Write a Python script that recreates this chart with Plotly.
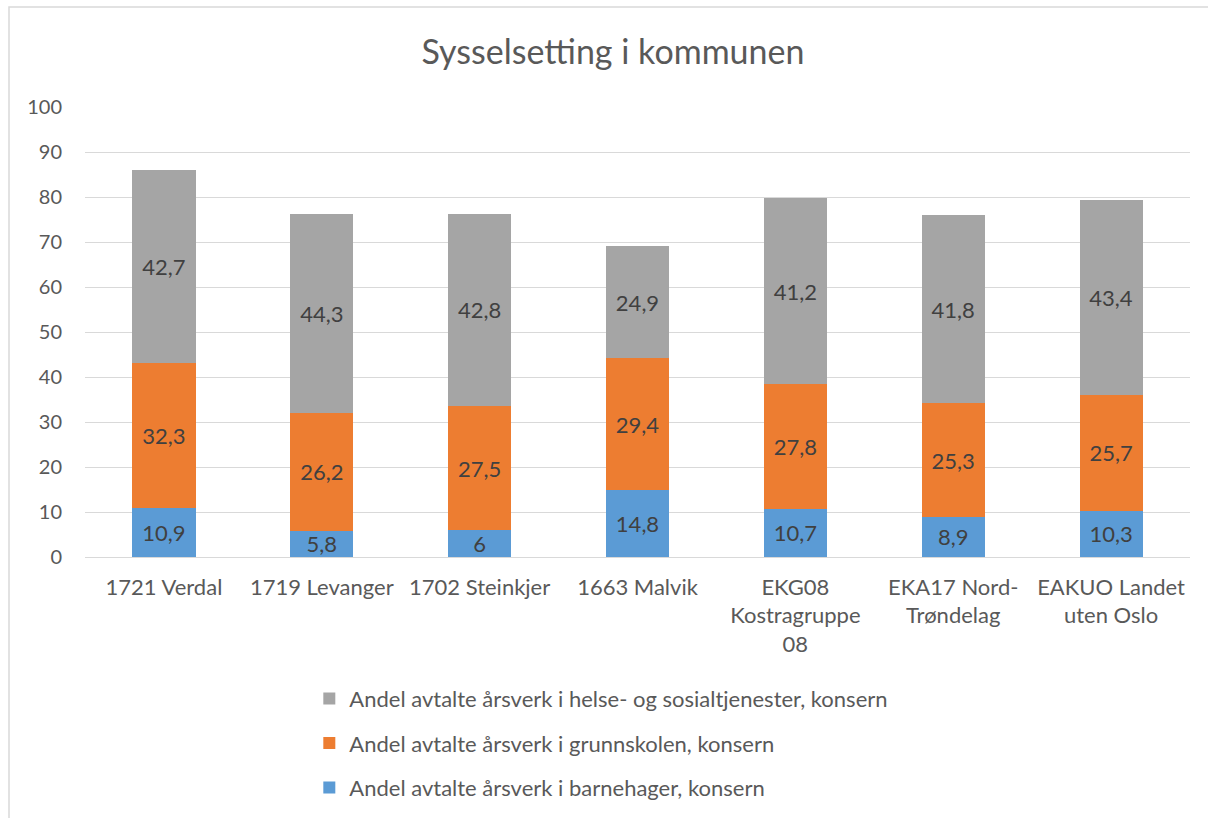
import plotly.graph_objects as go

categories = ["1721 Verdal", "1719 Levanger", "1702 Steinkjer", "1663 Malvik",
              "EKG08<br>Kostragruppe<br>08", "EKA17 Nord-<br>Trøndelag", "EAKUO Landet<br>uten Oslo"]
barnehager = [10.9, 5.8, 6, 14.8, 10.7, 8.9, 10.3]
grunnskolen = [32.3, 26.2, 27.5, 29.4, 27.8, 25.3, 25.7]
helse = [42.7, 44.3, 42.8, 24.9, 41.2, 41.8, 43.4]

series = [
    ("Andel avtalte årsverk i barnehager, konsern", barnehager, "#5B9BD5", 3),
    ("Andel avtalte årsverk i grunnskolen, konsern", grunnskolen, "#ED7D31", 2),
    ("Andel avtalte årsverk i helse- og sosialtjenester, konsern", helse, "#A5A5A5", 1),
]

FONT = "Lato, 'Open Sans', sans-serif"
fig = go.Figure()
for i, (name, vals, color, rank) in enumerate(series):
    fig.add_trace(go.Bar(
        x=categories, y=vals, name=name, marker=dict(color=color, line=dict(width=0)),
        text=[str(v).replace(".", ",") for v in vals], textposition="inside",
        insidetextanchor="middle", textangle=0, constraintext="none",
        textfont=dict(color="#404040", size=22, family=FONT),
        legendgroup=f"g{i}", legendrank=rank, hoverinfo="skip",
    ))

fig.update_layout(
    barmode="stack", bargap=0.6,
    width=1208, height=818,
    margin=dict(l=85, r=18, t=107, b=261, autoexpand=False),
    paper_bgcolor="white", plot_bgcolor="white",
    font=dict(family=FONT, color="#595959", size=22),
    title=dict(text="Sysselsetting i kommunen", x=613 / 1208, xanchor="center",
               y=1 - 52 / 818, yanchor="middle",
               font=dict(size=34, color="#595959", family=FONT)),
    legend=dict(orientation="v", x=0.203, xanchor="left", y=-0.268, yanchor="top",
                traceorder="grouped", tracegroupgap=13,
                font=dict(size=22, color="#595959", family=FONT),
                itemwidth=30, bgcolor="rgba(0,0,0,0)"),
    showlegend=True,
    shapes=[dict(type="rect", xref="paper", yref="paper",
                 x0=-76 / 1105, x1=1.2, y0=-0.7, y1=1 + 100 / 450,
                 line=dict(color="#D9D9D9", width=1.5), layer="below")],
)
fig.update_yaxes(range=[0, 100], dtick=10, showgrid=True, gridcolor="#D9D9D9", gridwidth=1.3,
                 zeroline=False, showline=False, ticks="", ticklabelstandoff=22,
                 tickfont=dict(size=20, color="#595959"))
fig.update_xaxes(showgrid=False, showline=True, linecolor="#D9D9D9", linewidth=1.3, ticks="",
                 ticklabelstandoff=10, tickfont=dict(size=22, color="#595959"))

fig.write_html("out.html", config={"displayModeBar": False},
               post_script="document.body.style.margin='0';document.body.style.overflow='hidden';")
